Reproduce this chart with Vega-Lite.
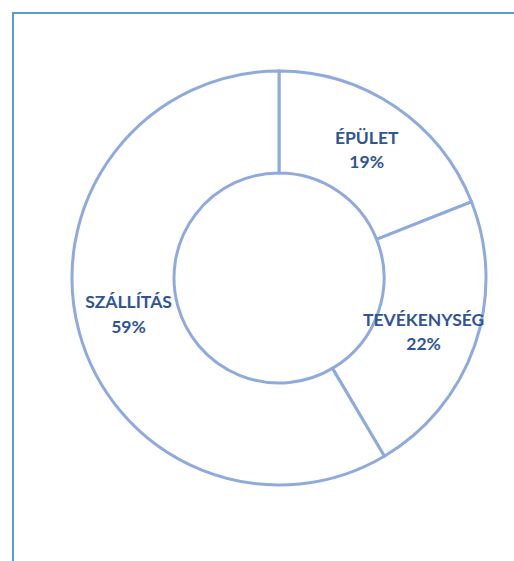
{
  "$schema": "https://vega.github.io/schema/vega-lite/v6.json",
  "width": 501,
  "height": 548,
  "padding": {"left": 13, "top": 13, "right": 0, "bottom": 0},
  "autosize": {"type": "none"},
  "background": "white",
  "view": {"stroke": "#5B9BD5", "strokeWidth": 2, "strokeDash": [501, 1049, 548, 10]},
  "config": {"view": {"stroke": "#5B9BD5", "strokeWidth": 2}, "text": {"font": "Lato", "fontWeight": "bold", "fontSize": 17.5, "fill": "#2F5597"}},
  "data": {"values": [
    {"idx": 1, "category": "ÉPÜLET", "value": 19, "pct": "19%"},
    {"idx": 2, "category": "TEVÉKENYSÉG", "value": 22.5, "pct": "22%"},
    {"idx": 3, "category": "SZÁLLÍTÁS", "value": 58.5, "pct": "59%"}
  ]},
  "encoding": {
    "theta": {"field": "value", "type": "quantitative", "stack": true},
    "order": {"field": "idx", "type": "quantitative"}
  },
  "layer": [
    {"mark": {"type": "arc", "innerRadius": 105, "outerRadius": 207, "fill": "white", "stroke": "#8FAADC", "strokeWidth": 3, "x": 266, "y": 265}},
    {"mark": {"type": "text", "radius": 156, "x": 266, "y": 265, "dy": -10}, "encoding": {"text": {"condition": {"test": "datum.idx == 1", "field": "category"}, "value": ""}}},
    {"mark": {"type": "text", "radius": 156, "x": 266, "y": 265, "dy": 14}, "encoding": {"text": {"condition": {"test": "datum.idx == 1", "field": "pct"}, "value": ""}}},
    {"mark": {"type": "text", "radius": 156, "x": 266, "y": 265, "dx": -3, "dy": -8}, "encoding": {"text": {"condition": {"test": "datum.idx == 2", "field": "category"}, "value": ""}}},
    {"mark": {"type": "text", "radius": 156, "x": 266, "y": 265, "dx": -3, "dy": 16}, "encoding": {"text": {"condition": {"test": "datum.idx == 2", "field": "pct"}, "value": ""}}},
    {"mark": {"type": "text", "radius": 156, "x": 266, "y": 265, "dy": -16}, "encoding": {"text": {"condition": {"test": "datum.idx == 3", "field": "category"}, "value": ""}}},
    {"mark": {"type": "text", "radius": 156, "x": 266, "y": 265, "dy": 9}, "encoding": {"text": {"condition": {"test": "datum.idx == 3", "field": "pct"}, "value": ""}}}
  ]
}
